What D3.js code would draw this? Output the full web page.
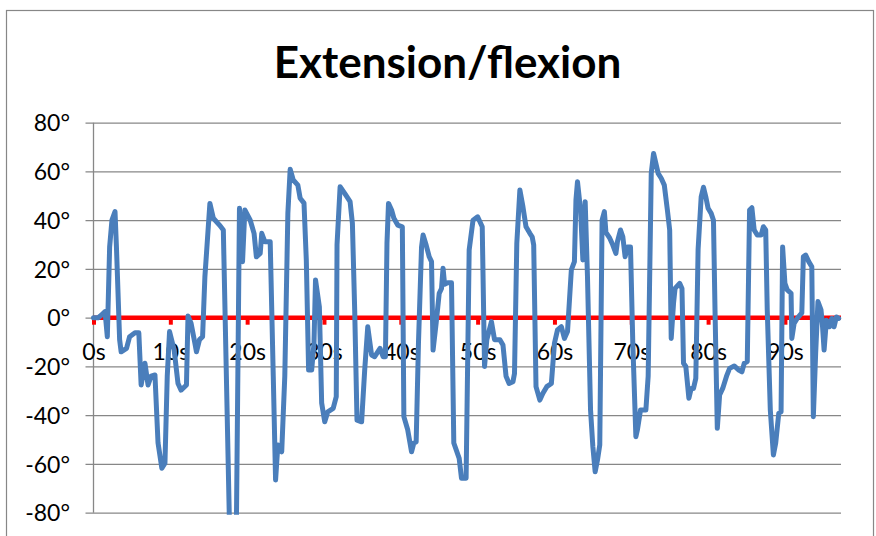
<!DOCTYPE html>
<html>
<head>
<meta charset="utf-8">
<script src="https://cdn.jsdelivr.net/npm/d3@7"></script>
<style>
  html, body { margin: 0; padding: 0; background: #fff; }
  svg { display: block; font-family: Lato, "Open Sans", sans-serif; }
</style>
</head>
<body>
<svg id="chart" width="876" height="536"></svg>
<script>
// Joint angle over time (seconds, degrees)
const times = [
  0, 0.6, 1.0, 1.5, 1.8, 2.1, 2.4, 2.8, 3.0, 3.4, 3.6, 4.3, 4.7, 5.4, 5.9, 6.2, 6.7, 7.1, 7.5, 8.0, 8.4,
  8.9, 9.3, 9.6, 9.9, 10.5, 11.0, 11.4, 12.1, 12.3, 12.7, 13.2, 13.4, 13.8, 14.2, 14.5, 15.15, 15.6, 16.4, 16.9, 17.7,
  18.6, 19.0, 19.4, 19.7, 20.4, 20.9, 21.2, 21.7, 21.9, 22.3, 23.0, 23.4, 23.7, 24.0, 24.5, 24.9, 25.3, 25.6, 26.0, 26.6,
  26.9, 27.4, 27.7, 28.0, 28.4, 28.7, 28.9, 29.4, 29.7, 30.1, 30.5, 31.2, 31.6, 31.7, 32.1, 32.7, 33.4, 33.7, 34.0, 34.3,
  34.9, 35.3, 35.7, 36.2, 36.6, 37.3, 37.7, 38.0, 38.2, 38.4, 38.8, 39.1, 39.6, 40.2, 40.4, 40.9, 41.4, 41.7, 42.0, 42.3,
  42.7, 42.9, 43.3, 43.7, 44.0, 44.2, 44.6, 45.0, 45.3, 45.5, 45.7, 46.1, 46.6, 46.9, 47.6, 47.9, 48.5, 48.9, 49.4, 50.0,
  50.6, 50.9, 51.2, 51.8, 52.2, 52.9, 53.3, 53.7, 54.1, 54.6, 54.8, 55.1, 55.5, 55.9, 56.3, 56.8, 57.1, 57.3, 57.6, 58.1,
  58.5, 59.0, 59.6, 60.0, 60.4, 60.9, 61.3, 61.7, 62.2, 62.6, 62.8, 63.0, 63.4, 63.7, 64.0, 64.3, 64.7, 65.0, 65.3, 65.6,
  65.9, 66.2, 66.5, 66.7, 67.2, 67.6, 68.0, 68.2, 68.6, 68.9, 69.2, 69.5, 69.9, 70.2, 70.6, 70.8, 71.2, 71.9, 72.2, 72.6,
  72.9, 73.5, 73.9, 74.3, 74.7, 75.0, 75.2, 75.5, 75.7, 76.3, 76.6, 76.8, 77.1, 77.5, 77.8, 78.1, 78.4, 78.7, 79.1, 79.4,
  79.7, 80.0, 80.4, 80.7, 80.9, 81.2, 81.5, 81.9, 82.4, 82.8, 83.4, 84.0, 84.4, 84.7, 85.1, 85.4, 85.7, 86.0, 86.4, 86.9,
  87.2, 87.5, 87.7, 88.1, 88.5, 88.8, 89.2, 89.5, 89.7, 90.0, 90.3, 90.8, 90.9, 91.2, 91.6, 92.2, 92.4, 92.7, 93.1, 93.5,
  93.7, 94.0, 94.3, 94.7, 94.9, 95.1, 95.4, 95.8, 96.1, 96.4, 96.7, 97.0
];
const angles = [
  0, 0, 1, 2.5, -7.8, 29, 40, 43.5, 27.8, -9, -14, -12.6, -7.8, -6.2, -6.2, -27.6, -18.7, -27.6, -24, -23.5, -51.4,
  -61.8, -59.7, -24, -5.7, -13.3, -27, -29.7, -27.6, 0.7, -2.3, -10.5, -14, -9, -7.8, 16.8, 46.9, 40.8, 38, 36, -85,
  -85, 44.9, 23, 44.2, 40, 34.6, 25, 26.4, 34.6, 31.2, 31.2, -24, -66.6, -52.2, -55, -24, 42.8, 60.9, 56.5, 54.4,
  49, 47, 23.7, -21.5, -21.5, -10.5, 15.5, 4.5, -35, -42.7, -38.6, -37.2, -32.4, 30, 53.7, 51, 47.6, 38.7, 3, -42,
  -42.7, -21.5, -3.7, -15.3, -16, -12.6, -16, -16, 30.5, 46.9, 44.2, 40.8, 38, 37.3, -40.6, -46, -55, -51.4, -51, -10.5,
  29, 33.9, 29.8, 25, 23, -13.3, -2.3, 10, 12, 20.3, 13.7, 14.3, 14.3, -51.4, -57.7, -65.9, -65.9, 27.8, 40, 41.4,
  37.3, -20, -9, -1.6, -9, -9, -11.2, -24, -27, -26.3, -22.9, 30.5, 52.4, 45.5, 37.3, 34.6, 33.2, 29.8, -28.3, -33.8,
  -31, -28.3, -27, -10.5, -5, -3.7, -8.5, -5.7, 19.6, 23, 48.3, 55.8, 44.2, 23.7, 47.6, 16.8, -37.9, -52.9, -63.2, -58.4,
  -52.2, 40, 43.5, 35, 32.6, 29.8, 26.4, 31.2, 36, 33.2, 25, 29, 29, -10.5, -48.8, -46, -37.9, -37.9, -24, 59.2,
  67.4, 59.2, 57.2, 54.4, 44.2, 36, -8.5, 5.9, 12, 14.1, 12, -18.7, -20, -33, -29, -29, -24.9, 28, 49.6, 53.5,
  49.6, 44.9, 42.8, 40, 3.2, -45.4, -31.7, -29, -24, -20.8, -19.8, -21.5, -22.2, -18.7, -18, 44.2, 45.1, 36, 33.9, 33.9,
  37.3, 36, 3.2, -37.9, -56.3, -51.4, -39.2, -38.6, 29, 14.1, 11.4, 10, -8.5, -2.3, -0.3, 2, 25, 25.7, 23, 20.9,
  -40.6, -14.6, 6.6, 3.2, -3.7, -13.3, -1, -3.7, -0.3, -3.7, 0.3, -0.3
];
const yTicks = [80, 60, 40, 20, 0, -20, -40, -60, -80];
const xTicks = [0, 10, 20, 30, 40, 50, 60, 70, 80, 90];
const titleText = "Extension/flexion";

const svg = d3.select("#chart");
const W = 876, H = 536;
const plot = { left: 93.5, right: 841, top: 122.7, bottom: 512.7 };

const x = d3.scaleLinear().domain([0, 97.3]).range([plot.left, plot.right]);
const y = d3.scaleLinear().domain([-80, 80]).range([plot.bottom, plot.top]);

// chart frame
svg.append("rect")
  .attr("x", 6.5).attr("y", 10.5)
  .attr("width", 867).attr("height", 600)
  .attr("fill", "#fff").attr("stroke", "#878787").attr("stroke-width", 1.2);

// title
svg.append("text")
  .attr("x", 447.5).attr("y", 78)
  .attr("text-anchor", "middle")
  .attr("font-weight", 700)
  .attr("font-size", 44)
  .attr("fill", "#000")
  .text(titleText);

// horizontal gridlines + y axis
const yAxis = d3.axisLeft(y)
  .tickValues(yTicks)
  .tickSize(-(plot.right - plot.left))
  .tickPadding(16)
  .tickFormat(d => d + "°");
const gy = svg.append("g")
  .attr("transform", `translate(${plot.left},0)`)
  .call(yAxis);
gy.select(".domain").remove();
gy.selectAll(".tick line")
  .attr("x1", -8)
  .attr("stroke", "#878787").attr("stroke-width", 1.3);
gy.selectAll(".tick text")
  .attr("font-size", 23)
  .attr("font-family", "Lato, 'Open Sans', sans-serif")
  .attr("fill", "#000")
  .attr("x", 70 - plot.left)
  .attr("dy", "0.36em");

// vertical axis line
svg.append("line")
  .attr("x1", plot.left).attr("x2", plot.left)
  .attr("y1", plot.top).attr("y2", plot.bottom)
  .attr("stroke", "#878787").attr("stroke-width", 1.3);

// time axis drawn at 0°
const xAxis = d3.axisBottom(x)
  .tickValues(xTicks)
  .tickSize(7)
  .tickPadding(0)
  .tickFormat(d => d + "s");
const gx = svg.append("g")
  .attr("transform", `translate(0,${y(0)})`)
  .call(xAxis);
gx.select(".domain")
  .attr("d", `M${plot.left},0H${plot.right}`)
  .attr("stroke", "#ff0000").attr("stroke-width", 4.5);
gx.selectAll(".tick line")
  .attr("stroke", "#ff0000").attr("stroke-width", 4);
gx.selectAll(".tick text")
  .attr("font-size", 23)
  .attr("font-family", "Lato, 'Open Sans', sans-serif")
  .attr("fill", "#000")
  .attr("y", 42)
  .attr("dy", 0);

// clip region for the series
svg.append("clipPath").attr("id", "plot-clip")
  .append("rect")
  .attr("x", 0).attr("y", 0)
  .attr("width", W).attr("height", plot.bottom + 2);

const points = times.map((t, i) => [t, angles[i]]);
const line = d3.line()
  .x(d => x(d[0]))
  .y(d => y(d[1]));

svg.append("path")
  .datum(points)
  .attr("clip-path", "url(#plot-clip)")
  .attr("d", line)
  .attr("fill", "none")
  .attr("stroke", "#4a7ebb")
  .attr("stroke-width", 5)
  .attr("stroke-linejoin", "round")
  .attr("stroke-linecap", "round");
</script>
</body>
</html>
